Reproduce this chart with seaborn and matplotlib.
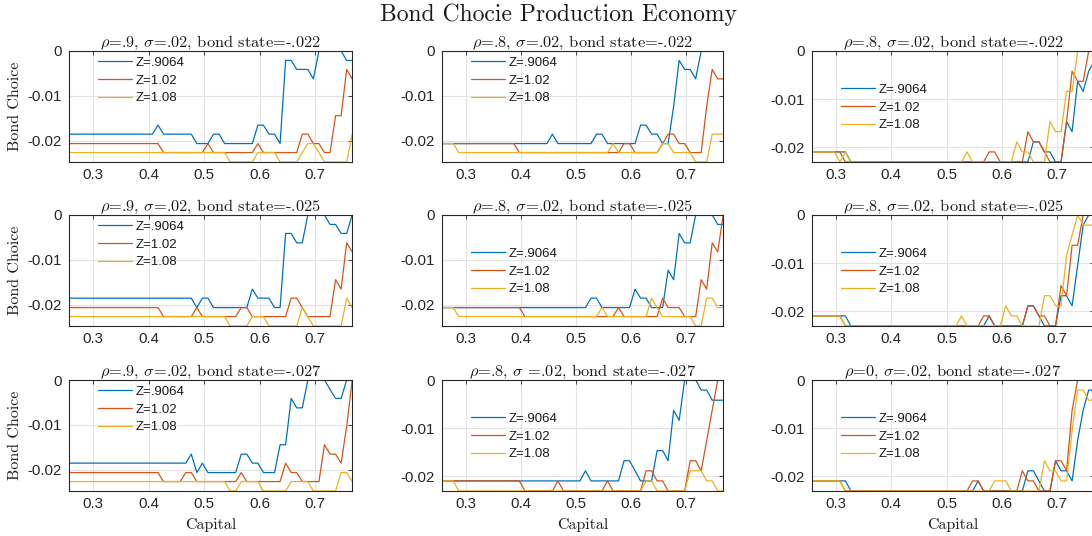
import matplotlib
matplotlib.use("Agg")
import matplotlib.pyplot as plt
import seaborn as sns
import pandas as pd

sns.set_theme(style="white")
plt.rcParams["font.family"] = ["Liberation Sans", "DejaVu Sans"]
plt.rcParams["mathtext.fontset"] = "cm"
plt.rcParams["axes.unicode_minus"] = False

W, H = 1092, 536

# ---------------- data ----------------
CAPITAL = [0.257, 0.267, 0.277, 0.287, 0.297, 0.307, 0.317, 0.327, 0.337, 0.347,
           0.357, 0.367, 0.377, 0.387, 0.397, 0.407, 0.417, 0.427, 0.437, 0.447,
           0.457, 0.467, 0.477, 0.487, 0.497, 0.507, 0.517, 0.527, 0.537, 0.547,
           0.557, 0.567, 0.577, 0.587, 0.597, 0.607, 0.617, 0.627, 0.637, 0.647,
           0.657, 0.667, 0.677, 0.687, 0.697, 0.707, 0.717, 0.727, 0.737, 0.747,
           0.757, 0.767]

# bond grid levels (index 0 = lowest)
GRID_A = [-0.0247, -0.0226, -0.0206, -0.0185, -0.0165, -0.0144, -0.0123,
          -0.0103, -0.0082, -0.0062, -0.0041, -0.0021, 0.0]
GRID_B = [-0.0231, -0.0210, -0.0189, -0.0168, -0.0147, -0.0126, -0.0105,
          -0.0084, -0.0063, -0.0042, -0.0021, 0.0]

SERIES_LABELS = ["Z=.9064", "Z=1.02", "Z=1.08"]
COLORS = ["#0072BD", "#D95319", "#EDB120"]

TITLES = [
    [r"$\rho$=.9, $\sigma$=.02, bond state=-.022",
     r"$\rho$=.8, $\sigma$=.02, bond state=-.022",
     r"$\rho$=.8, $\sigma$=.02, bond state=-.022"],
    [r"$\rho$=.9, $\sigma$=.02, bond state=-.025",
     r"$\rho$=.8, $\sigma$=.02, bond state=-.025",
     r"$\rho$=.8, $\sigma$=.02, bond state=-.025"],
    [r"$\rho$=.9, $\sigma$=.02, bond state=-.027",
     r"$\rho$=.8, $\sigma$ =.02, bond state=-.027",
     r"$\rho$=0, $\sigma$=.02, bond state=-.027"],
]

# bond choice, as grid-level index per capital point (hex digit per point)
p11_blue = "3333333333" "333333" "4" "333333" "222" "33" "222222" "44" "33" "2" "bb" "aaa" "9" "ccccc" "bb"
p11_red = "2222222222" "2222222" "11111111" "2" "11111111" "2" "1111111" "33" "22" "11" "55" "a" "9"
p11_yel = "1111111111" "1111111111" "111111111" "00000" "1111" "0000" "1" "22" "1" "00000" "3"

p21_blue = "3333333333" "3333333333" "333" "2" "33" "2222222" "4" "333" "22" "aa" "99" "cccc" "bb" "aa" "c"
p21_red = "2222222222" "2222222" "111111" "2" "1111111" "22" "1111111" "33" "2" "11111" "5" "4" "9" "8"
p21_yel = "1111111111" "1111111111" "111111111" "0000" "111" "000000" "2" "1" "000000" "3" "2"

p31_blue = "3333333333" "3333333333" "33" "4" "2" "3" "222222" "44" "33" "222" "55" "a" "99" "cccc" "b" "aa" "cc"
p31_red = "2222222222" "2222222" "1111" "22" "11111111" "2" "1111111" "3" "22" "1111" "5" "44" "3" "7" "c"
p31_yel = "1111111111" "1111111111" "111111111" "00" "1111" "00000" "1111" "00000" "22" "1"

p12_blue = "2222222222" "2222222222" "3" "2222222" "33" "222222" "44" "33" "22" "6" "b" "aa" "9" "ccccc"
p12_red = "2222222222" "2222" "1111111111" "111111111" "22" "11111" "2" "33" "22" "111" "6" "a" "99"
p12_yel = "222" "1111111111" "1111111111" "11111111" "2" "11111111" "22" "1111" "000" "333"

p22_blue = "2222222222" "2222222222" "2222222" "33" "222222" "4" "33" "222" "6" "5" "a" "99" "cccc" "bb"
p22_red = "2222222222" "22222" "1111111111" "1111111" "2" "1111111" "3" "222" "111" "5" "4" "9" "8" "c"
p22_yel = "222" "1111111111" "1111111111" "111111" "2" "11111111" "3" "2" "111111" "00" "33" "22"

p32_blue = "1111111111" "1111111111" "111111" "2" "111111" "33" "2" "111" "44" "3" "8" "7" "bbb" "aa" "999"
p32_red = "1111111111" "11111" "000000" "1" "00000000" "1" "000000" "22" "11" "0000" "33" "2" "5" "8" "bb"
p32_yel = "111" "0000000000" "0000000000" "0000000000" "0000" "11" "000000" "222" "11" "00"

p13_blue = "1111111" "0000000000" "0000000000" "0000000000" "000" "22" "11" "00" "4" "3" "8" "7" "9" "a"
p13_red = "111111" "0000000000" "0000000000" "000000" "11" "00000" "3" "22" "1" "000" "4" "9" "88" "bb"
p13_yel = "11111" "0" "1" "0000000000" "0000000000" "0" "1" "00000000" "2" "11" "000" "4" "33" "77" "bbbb"

p23_blue = "1111111" "0000000000" "0000000000" "00000" "1" "000000" "22" "1" "000" "33" "2" "6" "a" "bb"
p23_red = "111111" "0000000000" "0000000000" "00000" "11" "000000" "22" "11" "00" "4" "3" "88" "bbb"
p23_yel = "111111" "0000000000" "0000000000" "0" "1" "0000000" "2" "11" "0000" "33" "22" "7" "9" "b" "aaa"

p33_blue = "1111111" "0000000000" "0000000000" "000" "1" "00000000" "22" "1" "00" "3" "22" "1" "5" "8" "aa"
p33_red = "111111" "0000000000" "0000000000" "000" "11" "0000000" "2" "11" "000" "33" "2" "8" "bbbb"
p33_yel = "111111" "0000000000" "0000000000" "0000000" "111" "000000" "3" "22" "11" "6" "aa" "99"

PANEL_SERIES = [
    [(p11_blue, p11_red, p11_yel), (p12_blue, p12_red, p12_yel), (p13_blue, p13_red, p13_yel)],
    [(p21_blue, p21_red, p21_yel), (p22_blue, p22_red, p22_yel), (p23_blue, p23_red, p23_yel)],
    [(p31_blue, p31_red, p31_yel), (p32_blue, p32_red, p32_yel), (p33_blue, p33_red, p33_yel)],
]
PANEL_GRID = [["A", "A", "B"], ["A", "A", "B"], ["A", "B", "B"]]
LEGEND_LOW = [[False, False, True], [False, True, True], [False, True, True]]

XTICKS = [0.3, 0.4, 0.5, 0.6, 0.7]
XTICKLABELS = ["0.3", "0.4", "0.5", "0.6", "0.7"]
YTICKS = [-0.02, -0.01, 0.0]
YTICKLABELS = ["-0.02", "-0.01", "0"]

# ---------------- layout (pixels) ----------------
COL_LEFT = [69, 442, 812]
COL_W = [283, 281, 282]
ROW_TOP = [51, 215, 380]
ROW_H = 111

fig = plt.figure(figsize=(W / 100, H / 100), dpi=100)
fig.patch.set_facecolor("white")

for r in range(3):
    for c in range(3):
        l, w, t = COL_LEFT[c], COL_W[c], ROW_TOP[r]
        ax = fig.add_axes([l / W, 1 - (t + ROW_H) / H, w / W, ROW_H / H])
        grid = GRID_A if PANEL_GRID[r][c] == "A" else GRID_B
        rows = []
        for code, lab in zip(PANEL_SERIES[r][c], SERIES_LABELS):
            if len(code) != len(CAPITAL):
                print("length mismatch", r, c, lab, len(code))
            for k, ch in zip(CAPITAL, code):
                rows.append({"Capital": k, "Bond": grid[int(ch, 16)], "Z": lab})
        df = pd.DataFrame(rows)
        sns.lineplot(data=df, x="Capital", y="Bond", hue="Z", hue_order=SERIES_LABELS,
                     palette=COLORS, linewidth=0.9, errorbar=None, ax=ax, legend=False)
        ax.set_xlim(CAPITAL[0] - 0.0004, CAPITAL[-1] - 0.0004)
        ax.set_ylim(grid[0], 0)
        ax.set_xlabel("")
        ax.set_ylabel("")
        ax.set_xticks(XTICKS)
        ax.set_xticklabels(XTICKLABELS)
        ax.set_yticks(YTICKS)
        ax.set_yticklabels(YTICKLABELS)
        ax.tick_params(direction="in", top=True, right=True, length=3, width=0.6,
                       colors="#262626", labelsize=10.8, pad=4)
        ax.tick_params(axis="y", pad=5)
        for s in ax.spines.values():
            s.set_color("#262626")
            s.set_linewidth(0.8)
        ax.grid(True, color="#e3e3e3", linewidth=0.8)
        ax.set_axisbelow(True)
        ax.set_title(TITLES[r][c], fontsize=11.8, family="cmr10", pad=3, color="#1a1a1a")
        dy = 40 if LEGEND_LOW[r][c] else 13
        handles = ax.get_lines()[:3]
        leg = ax.legend(handles, SERIES_LABELS, loc="upper left",
                        bbox_to_anchor=(28.5 / w, 1 - (dy - 7.5) / ROW_H),
                        frameon=False, fontsize=9.5, handlelength=2.6,
                        handletextpad=0.3, labelspacing=0.42, borderpad=0,
                        borderaxespad=0)
        for txt in leg.get_texts():
            txt.set_color("#1a1a1a")

for r in range(3):
    yc = 1 - (ROW_TOP[r] + ROW_H / 2) / H
    fig.text(15 / W, yc, "Bond Choice", rotation=90, ha="center", va="center",
             family="cmr10", fontsize=11.5, color="#1a1a1a")
for c in range(3):
    xc = (COL_LEFT[c] + COL_W[c] / 2) / W
    fig.text(xc, 1 - 525 / H, "Capital", ha="center", va="center",
             family="cmr10", fontsize=11.5, color="#1a1a1a")

fig.text(558 / W, 1 - 15 / H, "Bond Chocie Production Economy", ha="center",
         va="center", family="cmr10", fontsize=17, color="#1a1a1a")

fig.savefig("out.png", dpi=100, facecolor="white")
